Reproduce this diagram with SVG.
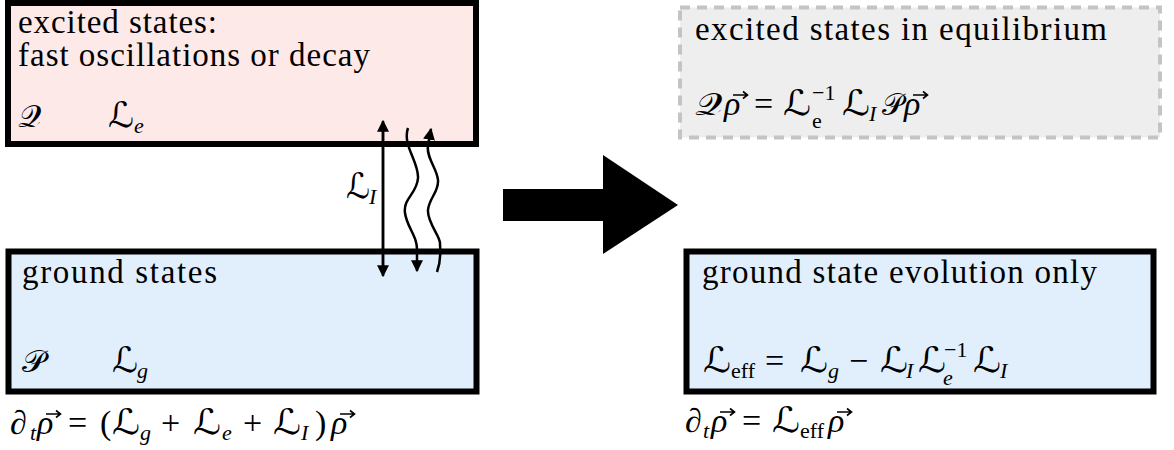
<svg xmlns="http://www.w3.org/2000/svg" width="1174" height="450" viewBox="0 0 1174 450">
<defs>
<style>
.t{font-family:"Liberation Serif","DejaVu Serif",serif;font-size:33px;fill:#000}
.m{font-family:"Liberation Serif","DejaVu Serif",serif;font-style:italic;font-size:34px;fill:#000}
.u{font-style:normal}
.c{font-family:"DejaVu Serif","DejaVu Sans",serif;font-style:normal;font-size:35px}
.q{font-family:"DejaVu Serif","DejaVu Sans",serif;font-style:normal;font-size:31px}
.s{font-size:22px}
.box{stroke:#000;stroke-width:6}
.con{fill:none;stroke:#000;stroke-width:2.5}
.vec{fill:none;stroke:#000;stroke-width:1.6}
</style>
<marker id="ah" viewBox="0 0 10 10" refX="9" refY="5" markerWidth="12" markerHeight="12" markerUnits="userSpaceOnUse" orient="auto">
<path d="M0,0 L10,5 L0,10 z" fill="#000"/>
</marker>
<path id="vec" class="vec" d="M0,0 H14 M10,-3.5 L14.5,0 L10,3.5"/>
</defs>
<rect width="1174" height="450" fill="#fff"/>
<g id="excited">
<rect class="box" x="8" y="3" width="468" height="141" fill="#fde9e8"/>
<text class="t" x="18" y="33" textLength="199" lengthAdjust="spacing">excited states:</text>
<text class="t" x="18" y="66" textLength="352" lengthAdjust="spacing">fast oscillations or decay</text>
<text class="m" y="127"><tspan class="q" x="18" textLength="23" lengthAdjust="spacingAndGlyphs">𝒬</tspan><tspan class="c" x="108" textLength="26" lengthAdjust="spacingAndGlyphs">ℒ</tspan><tspan class="s" x="134" y="133">e</tspan></text>
</g>
<g id="ground">
<rect class="box" x="8.5" y="251.5" width="468" height="140" fill="#e1effd"/>
<text class="t" x="22" y="283" textLength="195" lengthAdjust="spacing">ground states</text>
<text class="m" y="372"><tspan class="q" x="22" textLength="23" lengthAdjust="spacingAndGlyphs">𝒫</tspan><tspan class="c" x="112" textLength="26" lengthAdjust="spacingAndGlyphs">ℒ</tspan><tspan class="s" x="137" y="378">g</tspan></text>
</g>
<g id="eq-left">
<text class="m" y="434"><tspan class="u" x="10">∂</tspan><tspan class="s" x="30" y="440">t</tspan><tspan x="37" y="434">ρ</tspan><tspan class="u" x="68">=</tspan><tspan class="u" x="100">(</tspan><tspan class="c" x="112" textLength="28" lengthAdjust="spacingAndGlyphs">ℒ</tspan><tspan class="s" x="140" y="440">g</tspan><tspan class="u" x="161" y="434">+</tspan><tspan class="c" x="193" textLength="28" lengthAdjust="spacingAndGlyphs">ℒ</tspan><tspan class="s" x="222" y="440">e</tspan><tspan class="u" x="243" y="434">+</tspan><tspan class="c" x="273" textLength="28" lengthAdjust="spacingAndGlyphs">ℒ</tspan><tspan class="s" x="301" y="440">I</tspan><tspan class="u" x="315" y="434">)</tspan><tspan x="331">ρ</tspan></text>
<use href="#vec" x="46" y="414"/>
<use href="#vec" x="340" y="414"/>
</g>
<g id="equilibrium">
<rect x="680" y="7.5" width="480" height="130" fill="#eeeeee" stroke="#c4c4c4" stroke-width="4" stroke-dasharray="10 7"/>
<text class="t" x="695" y="40" textLength="412" lengthAdjust="spacing">excited states in equilibrium</text>
<text class="m" y="115"><tspan class="q" x="695" textLength="27" lengthAdjust="spacingAndGlyphs">𝒬</tspan><tspan x="724">ρ</tspan><tspan class="u" x="754">=</tspan><tspan class="c" x="783" textLength="28" lengthAdjust="spacingAndGlyphs">ℒ</tspan><tspan class="s u" x="812" y="128">e</tspan><tspan class="s u" x="812" y="100">−1</tspan><tspan class="c" x="842" y="115" textLength="28" lengthAdjust="spacingAndGlyphs">ℒ</tspan><tspan class="s" x="869" y="121">I</tspan><tspan class="q" x="882" y="115" textLength="21" lengthAdjust="spacingAndGlyphs">𝒫</tspan><tspan x="904">ρ</tspan></text>
<use href="#vec" x="733" y="95"/>
<use href="#vec" x="913" y="95"/>
</g>
<g id="effective">
<rect class="box" x="686.5" y="251.5" width="467" height="140" fill="#e1effd"/>
<text class="t" x="702" y="283" textLength="395" lengthAdjust="spacing">ground state evolution only</text>
<text class="m" y="372"><tspan class="c" x="703" textLength="28" lengthAdjust="spacingAndGlyphs">ℒ</tspan><tspan class="s u" x="731" y="378">eff</tspan><tspan class="u" x="765" y="372">=</tspan><tspan class="c" x="800" textLength="28" lengthAdjust="spacingAndGlyphs">ℒ</tspan><tspan class="s" x="828" y="378">g</tspan><tspan class="u" x="849" y="372">−</tspan><tspan class="c" x="880" textLength="28" lengthAdjust="spacingAndGlyphs">ℒ</tspan><tspan class="s" x="906" y="378">I</tspan><tspan class="c" x="918" y="372" textLength="28" lengthAdjust="spacingAndGlyphs">ℒ</tspan><tspan class="s" x="943" y="385">e</tspan><tspan class="s u" x="944" y="357">−1</tspan><tspan class="c" x="973" y="372" textLength="28" lengthAdjust="spacingAndGlyphs">ℒ</tspan><tspan class="s" x="1000" y="378">I</tspan></text>
</g>
<g id="eq-right">
<text class="m" y="432"><tspan class="u" x="685">∂</tspan><tspan class="s" x="703" y="438">t</tspan><tspan x="711" y="432">ρ</tspan><tspan class="u" x="742">=</tspan><tspan class="c" x="772" textLength="28" lengthAdjust="spacingAndGlyphs">ℒ</tspan><tspan class="s u" x="800" y="438">eff</tspan><tspan x="828" y="432">ρ</tspan></text>
<use href="#vec" x="720" y="412"/>
<use href="#vec" x="837" y="412"/>
</g>
<g id="connectors">
<line class="con" x1="383" y1="268" x2="383" y2="121" marker-end="url(#ah)"/>
<line class="con" x1="383" y1="130" x2="383" y2="276" marker-end="url(#ah)"/>
<text class="m" y="198"><tspan class="c" x="346" textLength="24" lengthAdjust="spacingAndGlyphs">ℒ</tspan><tspan class="s" x="369" y="204">I</tspan></text>
<path class="con" d="M408,128 C402,145 419,162 418,178 S403,198 405,213 S418,236 417,252 L417,271" marker-end="url(#ah)"/>
<path class="con" d="M437,272 C442,258 440,250 440,243 S427,222 428,210 S439,192 438,180 S426,158 428,145 L431,129" marker-end="url(#ah)"/>
<polygon points="503,189 603,189 603,155 678,205 603,254 603,221 503,221" fill="#000"/>
</g>
</svg>
